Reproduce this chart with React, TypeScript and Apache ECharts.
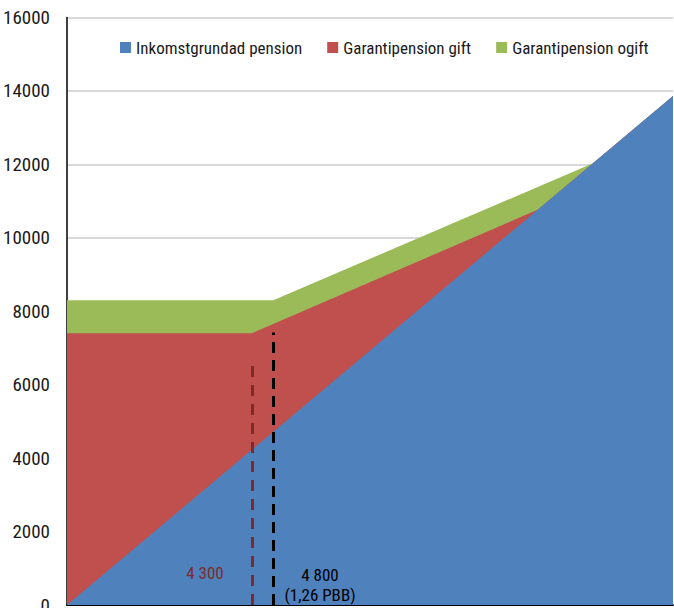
import React, { useEffect, useRef } from "react";
import * as echarts from "echarts";

// Income-based pension on the x axis (kr/month)
const xMax = 14100;

// Inkomstgrundad pension (blue) – points [x, value]
const inkomstX = [0, 14100];
const inkomstY = [0, 13860];

// Garantipension gift – total level (red top)
const giftX = [0, 4300, 10950, 14100];
const giftY = [7400, 7400, 10764, 13860];

// Garantipension ogift – total level (green top)
const ogiftX = [0, 4800, 12240, 14100];
const ogiftY = [8300, 8300, 12032, 13860];

// Threshold markers
const markerX = [4300, 4800];
const markerTop = [6650, 7420];
const markerLabels = ["4 300", "4 800\n(1,26 PBB)"];
const markerLabelX = [3211, 5887];
const markerLabelY = [871, 545];

const seriesNames = ["Inkomstgrundad pension", "Garantipension gift", "Garantipension ogift"];
const colors = ["#4f81bd", "#c0504d", "#9bbb59"];

const yTicks = { min: 0, max: 16000, interval: 2000 };

const FONT = "'Roboto Condensed', 'DejaVu Sans Condensed', sans-serif";
const FS = 17;

const zip = (xs: number[], ys: number[]) => xs.map((x, i) => [x, ys[i]]);

export default function App() {
  const ref = useRef<HTMLDivElement>(null);
  useEffect(() => {
    if (!ref.current) return;
    const chart = echarts.init(ref.current, null, { renderer: "svg" });
    const areaSeries = (name: string, data: number[][], color: string, z: number, extra: any = {}) => ({
      name,
      type: "line",
      data,
      symbol: "none",
      z,
      lineStyle: { width: 0, color },
      itemStyle: { color },
      areaStyle: { color, opacity: 1 },
      ...extra,
    });
    chart.setOption({
      animation: false,
      textStyle: { fontFamily: FONT },
      color: colors,
      grid: { left: 67, right: 1, top: 17.5, bottom: 3, outerBoundsMode: "none", containLabel: false },
      legend: {
        data: seriesNames,
        left: 115,
        top: 34,
        itemWidth: 11,
        itemHeight: 11,
        itemGap: 25,
        icon: "rect",
        textStyle: { fontFamily: FONT, fontSize: FS, color: "#1a1a1a" },
      },
      xAxis: {
        type: "value",
        position: "top",
        min: 0,
        max: xMax,
        axisLine: { show: true, lineStyle: { color: "#000", width: 2 } },
        axisTick: { show: false },
        axisLabel: { show: false },
        splitLine: { show: false },
      },
      yAxis: {
        type: "value",
        min: yTicks.min,
        max: yTicks.max,
        interval: yTicks.interval,
        axisLine: { show: true, lineStyle: { color: "#000", width: 1.5 } },
        axisTick: { show: false },
        axisLabel: {
          fontFamily: FONT,
          fontSize: 19,
          color: "#1a1a1a",
          margin: 17,
          formatter: (v: number) => String(v),
        },
        splitLine: { show: true, lineStyle: { color: "#d9d9d9", width: 2 } },
      },
      series: [
        areaSeries(seriesNames[0], zip(inkomstX, inkomstY), colors[0], 4, {
          markLine: {
            silent: true,
            symbol: ["none", "none"],
            label: { show: false },
            data: [
              [
                { coord: [markerX[0], 0], lineStyle: { color: "#7b2b2b", width: 3, type: [11, 8] } },
                { coord: [markerX[0], markerTop[0]] },
              ],
              [
                { coord: [markerX[1], 0], lineStyle: { color: "#000000", width: 3, type: [11, 7] } },
                { coord: [markerX[1], markerTop[1]] },
              ],
            ],
          },
          markPoint: {
            silent: true,
            symbol: "circle",
            symbolSize: 0,
            data: [
              {
                coord: [markerLabelX[0], markerLabelY[0]],
                label: {
                  show: true,
                  position: "inside",
                  formatter: markerLabels[0],
                  color: "#7b2b2b",
                  fontFamily: FONT,
                  fontSize: FS,
                },
              },
              {
                coord: [markerLabelX[1], markerLabelY[1]],
                label: {
                  show: true,
                  position: "inside",
                  formatter: markerLabels[1],
                  color: "#000",
                  fontFamily: FONT,
                  fontSize: FS,
                  lineHeight: 20,
                  align: "center",
                },
              },
            ],
          },
        }),
        areaSeries(seriesNames[1], zip(giftX, giftY), colors[1], 3),
        areaSeries(seriesNames[2], zip(ogiftX, ogiftY), colors[2], 2),
      ],
    });
    return () => chart.dispose();
  }, []);
  return (
    <div
      ref={ref}
      style={{ position: "fixed", left: 0, top: 0, width: 674, height: 608, background: "#fff" }}
    />
  );
}
